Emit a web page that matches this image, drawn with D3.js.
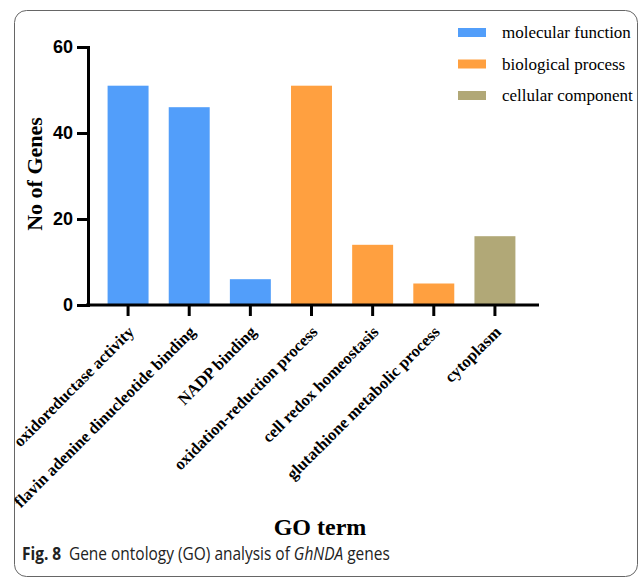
<!DOCTYPE html>
<html>
<head>
<meta charset="utf-8">
<script src="https://cdn.jsdelivr.net/npm/d3@7"></script>
<style>
  body { margin: 0; background: #fff; }
</style>
</head>
<body>
<div id="chart"></div>
<script>
// Data
const terms = [
    "oxidoreductase activity",
    "flavin adenine dinucleotide binding",
    "NADP binding",
    "oxidation-reduction process",
    "cell redox homeostasis",
    "glutathione metabolic process",
    "cytoplasm"
];
const geneCounts = [51, 46, 6, 51, 14, 5, 16];
const termGroups = [
    "molecular function", "molecular function", "molecular function",
    "biological process", "biological process", "biological process",
    "cellular component"
];
const groupNames = ["molecular function", "biological process", "cellular component"];
const yTicks = [0, 20, 40, 60];

function draw() {
    const width = 640, height = 578;

    const svg = d3.select('#chart')
        .append('svg')
        .attr('width', width)
        .attr('height', height);

    // Frame
    svg.append('rect')
        .attr('x', 14.5).attr('y', 10.5)
        .attr('width', 623).attr('height', 566)
        .attr('rx', 12)
        .attr('fill', 'none')
        .attr('stroke', '#666')
        .attr('stroke-width', 1);

    // Scales
    const x = d3.scaleBand()
        .domain(terms)
        .range([97.5, 525.5])
        .paddingInner(0.33)
        .paddingOuter(0.165);

    const y = d3.scaleLinear()
        .domain([0, 60])
        .range([305, 47]);

    const color = d3.scaleOrdinal()
        .domain(groupNames)
        .range(['#529efa', '#ffa040', '#b1a877']);

    // Bars
    svg.append('g')
        .selectAll('rect')
        .data(terms)
        .join('rect')
        .attr('x', d => x(d))
        .attr('y', (d, i) => y(geneCounts[i]))
        .attr('width', x.bandwidth())
        .attr('height', (d, i) => y(0) - y(geneCounts[i]))
        .attr('fill', (d, i) => color(termGroups[i]));

    // Y axis
    const yAxis = svg.append('g')
        .attr('transform', 'translate(88,0)')
        .call(d3.axisLeft(y).tickValues(yTicks).tickSize(11).tickPadding(4).tickSizeOuter(11));
    yAxis.select('.domain').attr('stroke-width', 3).attr('stroke', '#000');
    yAxis.selectAll('.tick line').attr('stroke-width', 3).attr('stroke', '#000');
    yAxis.selectAll('.tick text')
        .attr('font-family', '"Liberation Sans", Arial, sans-serif')
        .attr('font-weight', 'bold')
        .attr('font-size', 18)
        .attr('fill', '#000');

    // X axis
    const xAxis = svg.append('g')
        .attr('transform', `translate(0,${y(0)})`)
        .call(d3.axisBottom(x).tickSize(11).tickSizeOuter(0));
    xAxis.select('.domain').remove();
    xAxis.append('line')
        .attr('x1', 86).attr('x2', 539)
        .attr('stroke', '#000').attr('stroke-width', 3);
    xAxis.selectAll('.tick line').attr('stroke-width', 3).attr('stroke', '#000');
    xAxis.selectAll('.tick text')
        .attr('font-family', '"Liberation Serif", "Times New Roman", serif')
        .attr('font-weight', 'bold')
        .attr('font-size', 16.5)
        .attr('fill', '#000')
        .attr('text-anchor', 'end')
        .attr('dy', 0)
        .attr('y', 0)
        .attr('transform', 'translate(7,28) rotate(-45)');

    // Axis titles
    svg.append('text')
        .attr('transform', 'translate(42,174) rotate(-90)')
        .attr('text-anchor', 'middle')
        .attr('font-family', '"Liberation Serif", "Times New Roman", serif')
        .attr('font-weight', 'bold')
        .attr('font-size', 22)
        .text('No of Genes');

    svg.append('text')
        .attr('x', 320).attr('y', 535)
        .attr('text-anchor', 'middle')
        .attr('font-family', '"Liberation Serif", "Times New Roman", serif')
        .attr('font-weight', 'bold')
        .attr('font-size', 24)
        .text('GO term');

    // Legend
    const legend = svg.append('g')
        .selectAll('g')
        .data(groupNames)
        .join('g')
        .attr('transform', (d, i) => `translate(458,${32 + i * 31.5})`);
    legend.append('rect')
        .attr('x', 0).attr('y', -4)
        .attr('width', 28).attr('height', 9)
        .attr('fill', d => color(d));
    legend.append('text')
        .attr('x', 44).attr('y', 6)
        .attr('font-family', '"Liberation Serif", "Times New Roman", serif')
        .attr('font-size', 17)
        .text(d => d);

    // Caption
    const caption = svg.append('text')
        .attr('transform', 'translate(22,560) scale(0.86,1)')
        .attr('font-family', '"Open Sans", "Noto Sans", sans-serif')
        .attr('font-size', 18)
        .attr('fill', '#222');
    caption.append('tspan').attr('font-weight', 'bold').text('Fig. 8');
    caption.append('tspan').text('\u2002Gene ontology (GO) analysis of ');
    caption.append('tspan').attr('font-style', 'italic').text('GhNDA');
    caption.append('tspan').text(' genes');
}

draw();
</script>
</body>
</html>
